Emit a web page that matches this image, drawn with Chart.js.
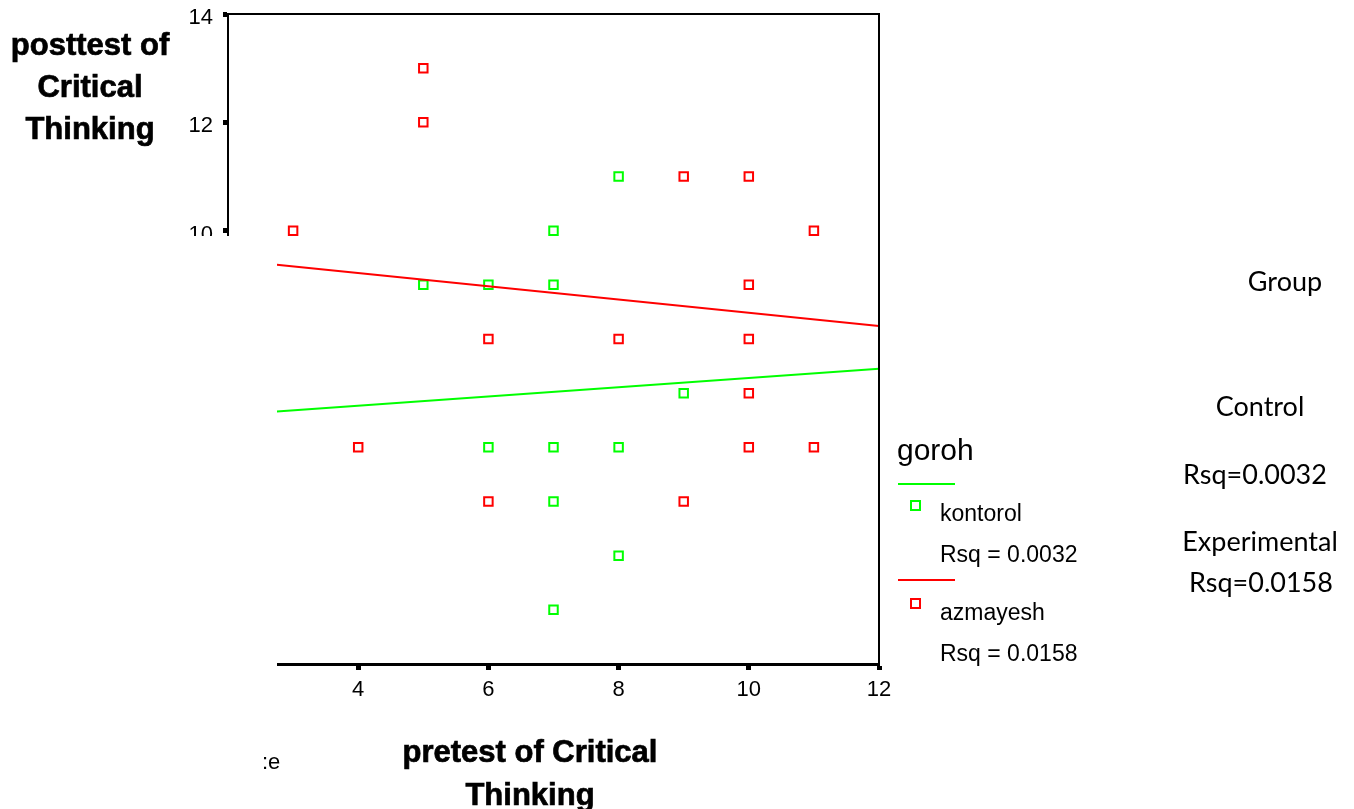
<!DOCTYPE html>
<html lang="en">
<head>
    <meta charset="UTF-8">
    <title>posttest vs pretest of Critical Thinking</title>
    <script src="https://cdn.jsdelivr.net/npm/chart.js"></script>
    <style>
        body { margin: 0; background: #fff; font-family: "Liberation Sans", Arial, sans-serif; }
        #wrap { position: relative; width: 1354px; height: 809px; overflow: hidden; }
        canvas { position: absolute; left: 0; top: 0; }
        .t { position: absolute; white-space: nowrap; color: #000; }
        .bold { font-weight: bold; text-align: center; -webkit-text-stroke: 0.7px #000; }
        .calibri { font-family: Lato, "Open Sans", sans-serif; font-size: 27px; line-height: 30px; width: 200px; text-align: center; }
        .leg { font-size: 23px; line-height: 26px; }
        .sw-line { position: absolute; height: 2px; width: 57px; }
        .sw-box { position: absolute; width: 7px; height: 7px; border: 2px solid; background: #fff; }
    </style>
</head>
<body>
<div id="wrap">
    <canvas id="scatter" width="1354" height="809"></canvas>

    <div class="t bold" style="left:0; width:180px; top:24px; font-size:31px; line-height:42px;">posttest of<br>Critical<br>Thinking</div>
    <div class="t bold" style="left:380px; width:300px; top:730px; font-size:31px; line-height:43px;">pretest of Critical<br>Thinking</div>
    <div class="t" style="left:262px; top:748px; font-size:22px; line-height:28px;">:e</div>

    <div class="t" style="left:897px; top:432px; font-size:30px; line-height:36px;">goroh</div>
    <div class="sw-line" style="left:898px; top:483px; background:#00ff00;"></div>
    <div class="sw-box" style="left:910px; top:500px; border-color:#00ff00;"></div>
    <div class="t leg" style="left:940px; top:500px;">kontorol</div>
    <div class="t leg" style="left:940px; top:541px;">Rsq = 0.0032</div>
    <div class="sw-line" style="left:898px; top:579px; background:#ff0000;"></div>
    <div class="sw-box" style="left:910px; top:598px; border-color:#ff0000;"></div>
    <div class="t leg" style="left:940px; top:599px;">azmayesh</div>
    <div class="t leg" style="left:940px; top:640px;">Rsq = 0.0158</div>

    <div class="t calibri" style="left:1185px; top:266px;">Group</div>
    <div class="t calibri" style="left:1160px; top:391px;">Control</div>
    <div class="t calibri" style="left:1155px; top:459px;">Rsq=0.0032</div>
    <div class="t calibri" style="left:1160px; top:526px;">Experimental</div>
    <div class="t calibri" style="left:1161px; top:567px;">Rsq=0.0158</div>
</div>

<script>
    // values
    const kontorolX = [8, 7, 5, 6, 7, 9, 6, 7, 8, 7, 8, 7];
    const kontorolY = [11, 10, 9, 9, 9, 7, 6, 6, 6, 5, 4, 3];
    const azmayeshX = [5, 5, 9, 10, 3, 11, 10, 6, 8, 10, 10, 4, 10, 11, 6, 9];
    const azmayeshY = [13, 12, 11, 11, 10, 10, 9, 8, 8, 8, 7, 6, 6, 6, 5, 5];
    // fit lines (end points)
    const fitX = [2.75, 12];
    const kontorolFit = [6.66, 7.45];
    const azmayeshFit = [9.37, 8.24];

    const GREEN = '#00ff00';
    const RED = '#ff0000';
    const tickFont = { family: '"Liberation Sans", Arial, sans-serif', size: 22 };

    function pts(xs, ys) {
        return xs.map((x, i) => ({ x: x, y: ys[i] }));
    }

    // top + right frame, then the white patch that hides the lower left part
    const framePlugin = {
        id: 'frame',
        afterDraw(chart) {
            const a = chart.chartArea;
            const c = chart.ctx;
            c.save();
            c.strokeStyle = '#000';
            c.lineWidth = 2;
            c.beginPath();
            c.moveTo(a.left, a.top);
            c.lineTo(a.right, a.top);
            c.lineTo(a.right, a.bottom);
            c.stroke();
            c.fillStyle = '#fff';
            c.fillRect(0, 236, 277, chart.height - 236);
            c.restore();
        }
    };

    const ctx = document.getElementById('scatter').getContext('2d');
    new Chart(ctx, {
        type: 'scatter',
        data: {
            datasets: [
                {
                    label: 'kontorol fit',
                    type: 'line',
                    data: pts(fitX, kontorolFit),
                    borderColor: GREEN,
                    borderWidth: 2,
                    pointRadius: 0,
                    fill: false
                },
                {
                    label: 'azmayesh fit',
                    type: 'line',
                    data: pts(fitX, azmayeshFit),
                    borderColor: RED,
                    borderWidth: 2,
                    pointRadius: 0,
                    fill: false
                },
                {
                    label: 'kontorol',
                    data: pts(kontorolX, kontorolY),
                    pointStyle: 'rect',
                    pointRadius: 6,
                    borderColor: GREEN,
                    backgroundColor: '#fff',
                    borderWidth: 2
                },
                {
                    label: 'azmayesh',
                    data: pts(azmayeshX, azmayeshY),
                    pointStyle: 'rect',
                    pointRadius: 6,
                    borderColor: RED,
                    backgroundColor: '#fff',
                    borderWidth: 2
                }
            ]
        },
        options: {
            responsive: false,
            animation: false,
            layout: { padding: { top: 14, right: 475, left: 0, bottom: 0 } },
            plugins: { legend: { display: false }, tooltip: { enabled: false } },
            scales: {
                x: {
                    type: 'linear',
                    min: 2,
                    max: 12,
                    afterFit(scale) { scale.height = 145; },
                    ticks: { stepSize: 2, color: '#000', font: tickFont, padding: 7 },
                    grid: { drawOnChartArea: false, tickLength: 6, tickWidth: 5, tickColor: '#000' },
                    border: { color: '#000', width: 3 }
                },
                y: {
                    type: 'linear',
                    min: 2,
                    max: 14,
                    afterFit(scale) { scale.width = 228; },
                    ticks: { stepSize: 2, color: '#000', font: { ...tickFont, lineHeight: 0.25 }, padding: 10, labelOffset: 4 },
                    grid: { drawOnChartArea: false, tickLength: 5, tickWidth: 5, tickColor: '#000' },
                    border: { color: '#000', width: 2 }
                }
            }
        },
        plugins: [framePlugin]
    });
</script>
</body>
</html>
